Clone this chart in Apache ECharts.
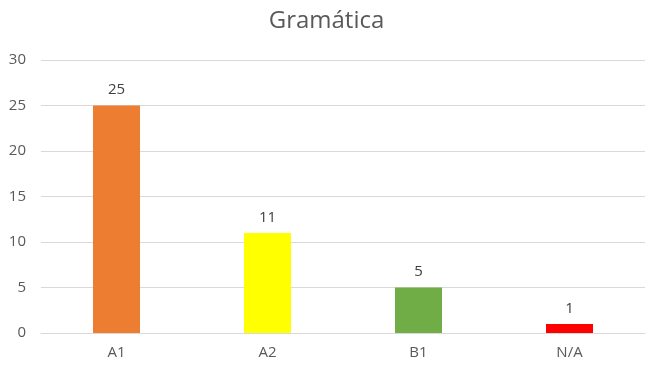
<!DOCTYPE html>
<html><head><meta charset="utf-8">
<script src="https://cdn.jsdelivr.net/npm/echarts@6/dist/echarts.min.js"></script>
<style>html,body{margin:0;padding:0;background:#fff}#c{width:653px;height:373px}</style>
</head><body><div id="c"></div>
<script>
const categories = ['A1', 'A2', 'B1', 'N/A'];
const values = [25, 11, 5, 1];
const barColors = ['#ED7D31', '#FFFF00', '#70AD47', '#FF0000'];
const yTicks = {min: 0, max: 30, interval: 5};
const chart = echarts.init(document.getElementById('c'));
const font = 'Open Sans, Noto Sans, sans-serif';
chart.setOption({
  animation: false,
  title: {text: 'Gramática', left: 'center', top: 4,
    textStyle: {fontFamily: font, fontSize: 24, fontWeight: 'normal', color: '#595959'}},
  grid: {left: 41, right: 8, top: 60, bottom: 40, containLabel: false},
  xAxis: {type: 'category', data: categories,
    axisLine: {lineStyle: {color: '#D9D9D9'}}, axisTick: {show: false},
    axisLabel: {color: '#595959', fontFamily: font, fontSize: 15, margin: 12}},
  yAxis: {type: 'value', min: yTicks.min, max: yTicks.max, interval: yTicks.interval,
    axisLine: {show: false}, axisTick: {show: false},
    splitLine: {lineStyle: {color: '#D9D9D9'}},
    axisLabel: {color: '#595959', fontFamily: font, fontSize: 15, margin: 15}},
  series: [{type: 'bar', barWidth: 47,
    data: values.map((v, i) => ({value: v, itemStyle: {color: barColors[i]}})),
    label: {show: true, position: 'top', distance: 8, color: '#404040', fontFamily: font, fontSize: 15}}]
});
</script></body></html>
